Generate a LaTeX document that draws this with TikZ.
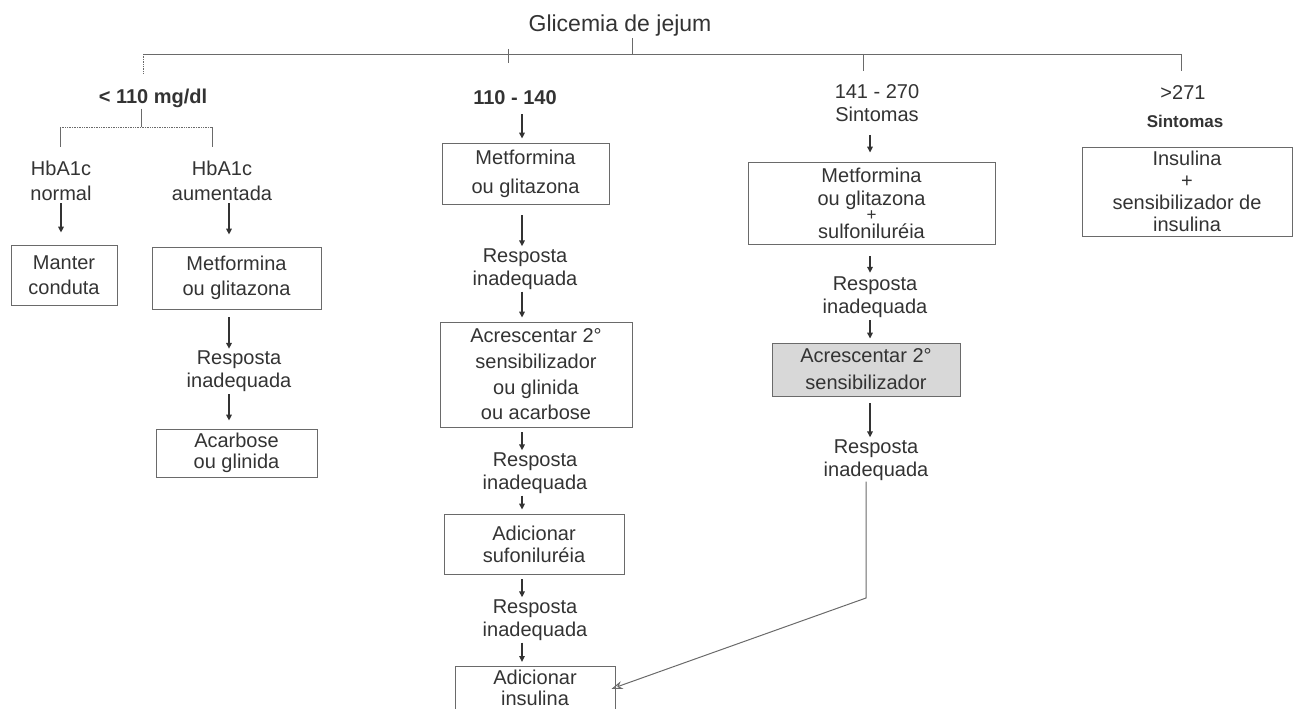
\documentclass[tikz,border=0pt]{standalone}
\usepackage{fontspec}
\setmainfont{Liberation Sans}
\usetikzlibrary{arrows.meta}

\definecolor{ink}{HTML}{333333}
\definecolor{rule}{HTML}{6A6A6A}
\definecolor{shade}{HTML}{D8D8D8}

\tikzset{
  txt/.style={text=ink, align=center, inner sep=1pt, font=\fontsize{20}{23}\selectfont},
  hdr/.style={txt, font=\fontsize{20}{23}\selectfont\bfseries},
  card/.style={txt, draw=rule, line width=0.8pt, inner sep=0pt},
  ln/.style={draw=rule, line width=0.7pt},
  arr/.style={draw=ink, line width=1.4pt, -{Triangle[length=6pt,width=5.5pt]}, shorten <=1pt, shorten >=4pt},
  arrb/.style={arr, shorten <=7pt, shorten >=1pt},
}

\begin{document}
\begin{tikzpicture}[x=1pt, y=-1pt]
  \useasboundingbox (0,0) rectangle (1296,709);

  % Top of the tree
  \node[txt, font=\fontsize{23}{26}\selectfont] (title) at (620,26) {Glicemia de jejum};
  \coordinate (d1) at (143,54);
  \coordinate (d2) at (508,54);
  \coordinate (d3) at (863,54);
  \coordinate (d4) at (1181,54);
  \draw[ln] (d1) -- (d4);
  \draw[ln] ([xshift=12pt]title.south) -- ([xshift=12pt]title.south |- d1);
  \draw[ln, densely dotted] (d1) -- ++(0,19);
  \draw[ln] ([yshift=5pt]d2) -- ++(0,14);
  \foreach \d in {d3, d4} \draw[ln] (\d) -- ++(0,17);

  % Glycaemia ranges
  \node[hdr] (lt110) at (153,98) {< 110 mg/dl};
  \node[hdr] (p110) at (515,98) {110 - 140};
  \node[txt] (p141) at (877,103) {141 - 270\\Sintomas};
  \node[txt] (p271) at (1183,93) {>271};
  \node[hdr, font=\fontsize{17}{18}\selectfont\bfseries] (s271) at (1185,121) {Sintomas};

  % HbA1c split
  \coordinate (sub) at (141,127);
  \coordinate (subL) at (60,127);
  \coordinate (subR) at (212,127);
  \draw[ln] (sub |- lt110.south) -- (sub);
  \draw[ln, densely dotted] (subL) -- (subR);
  \draw[ln] (subL) -- ++(0,20);
  \draw[ln] (subR) -- ++(0,20);
  \node[txt] (hbn) at (61,181) {HbA1c\\[2pt]normal};
  \node[txt] (hba) at (222,181) {HbA1c\\[2pt]aumentada};

  % Left column
  \node[card, minimum width=106pt, minimum height=60pt] (manter) at (64,275) {Manter\\[2pt]conduta};
  \node[card, minimum width=169pt, minimum height=62pt] (met1) at (236.5,278) {Metformina\\[2pt]ou glitazona};
  \node[txt] (resp1) at (239,371.5) {Resposta\\inadequada};
  \node[card, minimum width=161pt, minimum height=48pt] (acarb) at (236.5,453) {Acarbose\\[-2pt]ou glinida};

  % Middle column
  \node[card, minimum width=167pt, minimum height=61pt] (met2) at (525.5,173.5) {Metformina\\[6pt]ou glitazona};
  \node[txt] (resp2) at (525,269) {Resposta\\inadequada};
  \node[card, minimum width=192pt, minimum height=105pt] (acresc) at (536,374.5) {Acrescentar 2°\\[3pt]sensibilizador\\[3pt]ou glinida\\[2pt]ou acarbose};
  \node[txt] (resp3) at (535,473) {Resposta\\inadequada};
  \node[card, minimum width=180pt, minimum height=60pt] (adicsuf) at (534,544) {Adicionar\\[-1pt]sufoniluréia};
  \node[txt] (resp4) at (535,620) {Resposta\\inadequada};
  \node[card, minimum width=160pt, minimum height=50pt, anchor=north] (adicins) at (535,666) {};
  \node[txt] (adicinsT) at ([yshift=4pt]adicins.center) {Adicionar\\[-2pt]insulina};

  % Right columns
  \node[card, minimum width=247pt, minimum height=82pt] (met3) at (871.5,203) {Metformina\\ou glitazona\\[-8pt]{\fontsize{17}{17}\selectfont +}\\[-5pt]sulfoniluréia};
  \node[txt] (resp5) at (875,297.5) {Resposta\\inadequada};
  \node[card, fill=shade, minimum width=188pt, minimum height=53pt] (acresc2) at (866,369.5) {Acrescentar 2°\\[4pt]sensibilizador};
  \node[txt] (resp6) at (876,460) {Resposta\\inadequada};
  \node[card, minimum width=210pt, minimum height=89pt] (insul) at (1187,191.5) {Insulina\\[-1pt]+\\[-1pt]sensibilizador de\\[-1pt]insulina};

  % Arrows down the columns
  \coordinate (colA) at (229,0);
  \coordinate (colB) at (522,0);
  \coordinate (colC) at (870,0);
  \draw[arr, shorten >=12pt] (hbn.south) -- (hbn.south |- manter.north);
  \draw[arr, shorten >=12pt] (colA |- hba.south) -- (colA |- met1.north);
  \draw[arrb, shorten <=8pt] (colA |- met1.south) -- (colA |- resp1.north);
  \draw[arr, shorten >=8pt] (colA |- resp1.south) -- (colA |- acarb.north);
  \draw[arr, shorten <=8pt] (colB |- p110.south) -- (colB |- met2.north);
  \draw[arrb, shorten <=11pt] (colB |- met2.south) -- (colB |- resp2.north);
  \foreach \a/\b in {acresc/resp3, adicsuf/resp4}
    \draw[arrb, shorten <=5pt] (colB |- \a.south) -- (colB |- \b.north);
  \foreach \a/\b in {resp2/acresc, resp3/adicsuf, resp4/adicins}
    \draw[arr] (colB |- \a.south) -- (colB |- \b.north);
  \draw[arr, shorten <=12pt, shorten >=9pt] (colC |- p141.south) -- (colC |- met3.north);
  \draw[arrb, shorten <=12pt, shorten >=3pt] (colC |- met3.south) -- (colC |- resp5.north);
  \draw[arr] (colC |- resp5.south) -- (colC |- acresc2.north);
  \draw[arrb] (colC |- acresc2.south) -- (colC |- resp6.north);

  % Back to insulin
  \coordinate (bend) at (866,598);
  \draw[ln, line width=1pt, -{Stealth[open, length=11pt, width=8pt]}, shorten >=-4pt]
    (bend |- resp6.south) -- (bend) -- (adicins.east |- adicinsT);
\end{tikzpicture}
\end{document}
